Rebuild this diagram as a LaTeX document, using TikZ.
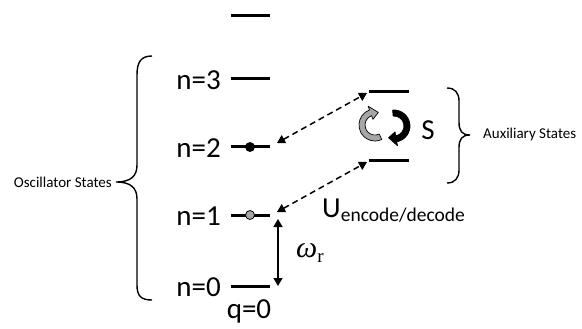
\documentclass[tikz,border=0pt]{standalone}
\usepackage{fontspec}
\setmainfont{Carlito}
\newfontfamily\tmsfont{Liberation Serif}
\usetikzlibrary{arrows.meta,calc}

\tikzset{
  level/.style={line width=3pt},
  lbl/.style={inner sep=0pt, font=\fontsize{29}{29}\selectfont},
  side/.style={inner sep=0pt, font=\fontsize{15}{15}\selectfont},
  brace/.style={line width=1.4pt},
  tri/.tip={Triangle[width=9pt,length=8pt]},
  swap/.style={dashed, dash pattern=on 6pt off 4pt, line width=1.5pt, tri-tri},
  gap/.style={line width=1.5pt, tri-tri},
  dot/.style={circle, draw=black, line width=0.8pt, minimum size=9pt, inner sep=0pt}
}

% curved block arrow: center, start angle, end angle, outer radius, inner radius, tip angle, style
\newcommand{\blockarc}[7]{%
  \filldraw[#7, line width=0.7pt, line join=round]
    ($#1+(#2:#4)$) arc[start angle=#2, end angle=#3, radius=#4]
    -- ($#1+(#3:#4+4pt)$) -- ($#1+(#6:#4/2+#5/2)$) -- ($#1+(#3:#5-4pt)$)
    -- ($#1+(#3:#5)$) arc[start angle=#3, end angle=#2, radius=#5] -- cycle;}

\begin{document}
\begin{tikzpicture}[x=1pt,y=1pt]
\useasboundingbox (0,0) rectangle (582,-329);

% oscillator ladder
\foreach \k/\y in {t/16,3/79,2/147,1/215,0/286}{
  \coordinate (o\k l) at (231,-\y);
  \coordinate (o\k r) at (270,-\y);
}
\foreach \k in {t,3,2,1,0}{ \draw[level] (o\k l) -- (o\k r); }

\node[lbl, anchor=east] (n3) at (221,-80) {n=3};
\node[lbl, anchor=east] (n2) at (221,-148) {n=2};
\node[lbl, anchor=east] (n1) at (221,-216) {n=1};
\node[lbl, anchor=east] (n0) at (221,-287) {n=0};
\node[lbl] (q0) at (249,-311) {q=0};

\node[dot, fill=black] (d2) at (250,-147) {};
\node[dot, fill=black!35] (d1) at (250,-215) {};

% auxiliary pair
\coordinate (au l) at (369,-92);
\coordinate (au r) at (409,-92);
\coordinate (al l) at (369,-161);
\coordinate (al r) at (409,-161);
\draw[level] (au l) -- (au r);
\draw[level] (al l) -- (al r);

% encode/decode swaps
\coordinate (s2) at (277,-143);
\coordinate (s2a) at (367,-93);
\coordinate (s1) at (277,-212);
\coordinate (s1a) at (367,-162);
\draw[swap] (s2) -- (s2a);
\draw[swap] (s1) -- (s1a);

% oscillator spacing
\coordinate (w1) at (278,-219);
\coordinate (w0) at (278,-286);
\draw[gap] (w1) -- (w0);
\node[inner sep=0pt] (wr) at (310,-253)
  {\tmsfont\fontsize{30}{30}\selectfont\itshape ω\raisebox{-5pt}{\upshape\fontsize{19}{19}\selectfont r}};

\node[lbl, anchor=base west] (U) at (322,-217)
  {U\raisebox{-5pt}{\fontsize{19.5}{19.5}\selectfont encode/decode}};

% rotation between auxiliary states
\blockarc{(375,-125)}{295}{110}{16pt}{10pt}{75}{fill=black!35, draw=black}
\blockarc{(394,-126)}{95}{-80}{16pt}{10pt}{-115}{fill=black, draw=black}
\node[lbl] (S) at (428,-130) {S};

% braces
\draw[brace] (152,-56) .. controls (141,-56) and (137,-62) .. (137,-75)
  -- (137,-165) .. controls (137,-176) and (131,-182) .. (116,-182)
  .. controls (131,-182) and (137,-188) .. (137,-199)
  -- (137,-285) .. controls (137,-296) and (141,-300) .. (152,-300);
\node[side, anchor=east] (osc) at (112,-182) {Oscillator States};

\draw[brace] (447,-88) .. controls (455,-88) and (459,-93) .. (459,-101)
  -- (459,-122) .. controls (459,-131) and (462,-135) .. (470,-135)
  .. controls (462,-135) and (459,-139) .. (459,-148)
  -- (459,-170) .. controls (459,-178) and (455,-183) .. (447,-183);
\node[side, anchor=west] (aux) at (483,-135) {Auxiliary States};
\end{tikzpicture}
\end{document}
